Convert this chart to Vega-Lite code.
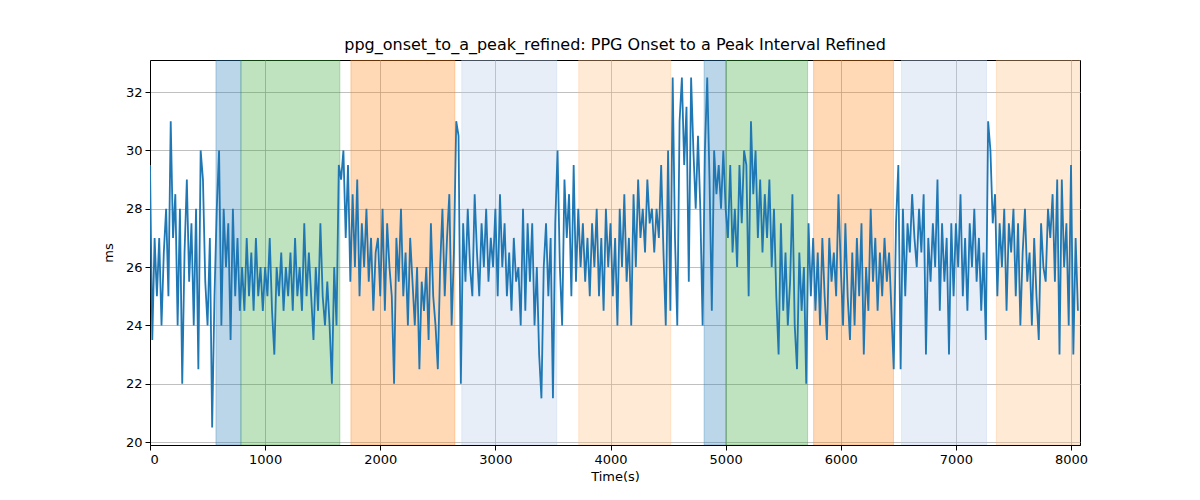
{
"$schema": "https://vega.github.io/schema/vega-lite/v6.json",
"autosize": "none",
"width": 930,
"height": 385,
"padding": {"left": 150, "top": 60, "right": 120, "bottom": 55},
"background": "white",
"title": {"text": "ppg_onset_to_a_peak_refined: PPG Onset to a Peak Interval Refined", "font": "DejaVu Sans", "fontSize": 16, "fontWeight": "normal", "color": "black", "anchor": "middle", "offset": 7},
"config": {
  "view": {"stroke": "black", "strokeWidth": 1},
  "axis": {"labelFont": "DejaVu Sans", "titleFont": "DejaVu Sans", "labelFontSize": 13, "titleFontSize": 13, "titleFontWeight": "normal", "labelColor": "black", "titleColor": "black", "domainColor": "black", "tickColor": "black", "tickSize": 5, "gridColor": "#b0b0b0", "gridWidth": 0.8, "labelPadding": 3}
},
"datasets": {
  "spans": [
    {"start": 573, "end": 790, "phase": "p1"},
    {"start": 790, "end": 1649, "phase": "p2"},
    {"start": 1745, "end": 2648, "phase": "p3"},
    {"start": 2708, "end": 3533, "phase": "p4"},
    {"start": 3724, "end": 4523, "phase": "p5"},
    {"start": 4813, "end": 5002, "phase": "p1"},
    {"start": 5002, "end": 5712, "phase": "p2"},
    {"start": 5764, "end": 6458, "phase": "p3"},
    {"start": 6528, "end": 7266, "phase": "p4"},
    {"start": 7352, "end": 8078, "phase": "p5"}
  ],
  "series": [
    {"t":0,"v":29.5},{"t":20,"v":23.5},{"t":40,"v":27},{"t":60,"v":25},{"t":80,"v":27},{"t":100,"v":24},{"t":120,"v":26.5},{"t":140,"v":28},{"t":160,"v":25},{"t":180,"v":31},
    {"t":200,"v":27},{"t":220,"v":28.5},{"t":240,"v":24},{"t":260,"v":28},{"t":280,"v":22},{"t":300,"v":26.5},{"t":320,"v":29},{"t":340,"v":25.5},{"t":360,"v":27.5},{"t":380,"v":24},
    {"t":400,"v":28},{"t":420,"v":22.5},{"t":440,"v":30},{"t":460,"v":29},{"t":480,"v":25.5},{"t":500,"v":24},{"t":520,"v":27},{"t":540,"v":20.5},{"t":560,"v":25},{"t":580,"v":28},
    {"t":600,"v":30},{"t":620,"v":24},{"t":640,"v":28},{"t":660,"v":26},{"t":680,"v":27.5},{"t":700,"v":23.5},{"t":720,"v":28},{"t":740,"v":25},{"t":760,"v":27},{"t":780,"v":24.5},
    {"t":800,"v":26},{"t":820,"v":24.5},{"t":840,"v":27},{"t":860,"v":25},{"t":880,"v":26.5},{"t":900,"v":24.5},{"t":920,"v":27},{"t":940,"v":25},{"t":960,"v":26},{"t":980,"v":24.5},
    {"t":1000,"v":26},{"t":1020,"v":25},{"t":1040,"v":27},{"t":1060,"v":24.5},{"t":1080,"v":23},{"t":1100,"v":26},{"t":1120,"v":25},{"t":1140,"v":26.5},{"t":1160,"v":24.5},{"t":1180,"v":26},
    {"t":1200,"v":25},{"t":1220,"v":26.5},{"t":1240,"v":24.5},{"t":1260,"v":27},{"t":1280,"v":25},{"t":1300,"v":26},{"t":1320,"v":24.5},{"t":1340,"v":27.5},{"t":1360,"v":25},{"t":1380,"v":26.5},
    {"t":1400,"v":25},{"t":1420,"v":23.5},{"t":1440,"v":26},{"t":1460,"v":24.5},{"t":1480,"v":27.5},{"t":1500,"v":25},{"t":1520,"v":24},{"t":1540,"v":25.5},{"t":1560,"v":24},{"t":1580,"v":22},
    {"t":1600,"v":26},{"t":1620,"v":24},{"t":1640,"v":29.5},{"t":1660,"v":29},{"t":1680,"v":30},{"t":1700,"v":27},{"t":1720,"v":29.5},{"t":1740,"v":25.5},{"t":1760,"v":28.5},{"t":1780,"v":26},
    {"t":1800,"v":29},{"t":1820,"v":25},{"t":1840,"v":27.5},{"t":1860,"v":26},{"t":1880,"v":28},{"t":1900,"v":25.5},{"t":1920,"v":27},{"t":1940,"v":24.5},{"t":1960,"v":26.5},{"t":1980,"v":27},
    {"t":2000,"v":25},{"t":2020,"v":28},{"t":2040,"v":24.5},{"t":2060,"v":27.5},{"t":2080,"v":26},{"t":2100,"v":25},{"t":2120,"v":22},{"t":2140,"v":27},{"t":2160,"v":25.5},{"t":2180,"v":28},
    {"t":2200,"v":25},{"t":2220,"v":26.5},{"t":2240,"v":24},{"t":2260,"v":27},{"t":2280,"v":25.5},{"t":2300,"v":24},{"t":2320,"v":26},{"t":2340,"v":22.5},{"t":2360,"v":25.5},{"t":2380,"v":24.5},
    {"t":2400,"v":26},{"t":2420,"v":23.5},{"t":2440,"v":27.5},{"t":2460,"v":25},{"t":2480,"v":24},{"t":2500,"v":22.5},{"t":2520,"v":26},{"t":2540,"v":28},{"t":2560,"v":25},{"t":2580,"v":27},
    {"t":2600,"v":28.5},{"t":2620,"v":24},{"t":2640,"v":26.5},{"t":2660,"v":31},{"t":2680,"v":30.5},{"t":2700,"v":22},{"t":2720,"v":27.5},{"t":2740,"v":25.5},{"t":2760,"v":28},{"t":2780,"v":26},
    {"t":2800,"v":25},{"t":2820,"v":28.5},{"t":2840,"v":26.5},{"t":2860,"v":25},{"t":2880,"v":27.5},{"t":2900,"v":26},{"t":2920,"v":28},{"t":2940,"v":25.5},{"t":2960,"v":27},{"t":2980,"v":26},
    {"t":3000,"v":28},{"t":3020,"v":25},{"t":3040,"v":28.5},{"t":3060,"v":26},{"t":3080,"v":27.5},{"t":3100,"v":25},{"t":3120,"v":26.5},{"t":3140,"v":24.5},{"t":3160,"v":27},{"t":3180,"v":25.5},
    {"t":3200,"v":26},{"t":3220,"v":24},{"t":3240,"v":28},{"t":3260,"v":24.5},{"t":3280,"v":27.5},{"t":3300,"v":25.5},{"t":3320,"v":27.5},{"t":3340,"v":24},{"t":3360,"v":26},{"t":3380,"v":23},
    {"t":3400,"v":21.5},{"t":3420,"v":26},{"t":3440,"v":27.5},{"t":3460,"v":25},{"t":3480,"v":27},{"t":3500,"v":21.5},{"t":3520,"v":27.5},{"t":3540,"v":30},{"t":3560,"v":26},{"t":3580,"v":24},
    {"t":3600,"v":29},{"t":3620,"v":27},{"t":3640,"v":28.5},{"t":3660,"v":25},{"t":3680,"v":29.5},{"t":3700,"v":25.5},{"t":3720,"v":28},{"t":3740,"v":26},{"t":3760,"v":27.5},{"t":3780,"v":25.5},
    {"t":3800,"v":27},{"t":3820,"v":25},{"t":3840,"v":27.5},{"t":3860,"v":26},{"t":3880,"v":28},{"t":3900,"v":25},{"t":3920,"v":27},{"t":3940,"v":24.5},{"t":3960,"v":28},{"t":3980,"v":26},
    {"t":4000,"v":27.5},{"t":4020,"v":25},{"t":4040,"v":27},{"t":4060,"v":24},{"t":4080,"v":28},{"t":4100,"v":26},{"t":4120,"v":28.5},{"t":4140,"v":25.5},{"t":4160,"v":27},{"t":4180,"v":24},
    {"t":4200,"v":28.5},{"t":4220,"v":26},{"t":4240,"v":29},{"t":4260,"v":27},{"t":4280,"v":28},{"t":4300,"v":26.5},{"t":4320,"v":29},{"t":4340,"v":27.5},{"t":4360,"v":28},{"t":4380,"v":26.5},
    {"t":4400,"v":28},{"t":4420,"v":27},{"t":4440,"v":29.5},{"t":4460,"v":26.5},{"t":4480,"v":24},{"t":4500,"v":30},{"t":4520,"v":24.5},{"t":4540,"v":32.5},{"t":4560,"v":27},{"t":4580,"v":24},
    {"t":4600,"v":31},{"t":4620,"v":32.5},{"t":4640,"v":29.5},{"t":4660,"v":31.5},{"t":4680,"v":25.5},{"t":4700,"v":32.5},{"t":4720,"v":30},{"t":4740,"v":28},{"t":4760,"v":30.5},{"t":4780,"v":28},
    {"t":4800,"v":24},{"t":4820,"v":30},{"t":4840,"v":32.5},{"t":4860,"v":29},{"t":4880,"v":24.5},{"t":4900,"v":30},{"t":4920,"v":28.5},{"t":4940,"v":29.5},{"t":4960,"v":28},{"t":4980,"v":30},
    {"t":5000,"v":28},{"t":5020,"v":27},{"t":5040,"v":29.5},{"t":5060,"v":26.5},{"t":5080,"v":28},{"t":5100,"v":26},{"t":5120,"v":29.5},{"t":5140,"v":27.5},{"t":5160,"v":30},{"t":5180,"v":29.5},
    {"t":5200,"v":25},{"t":5220,"v":31},{"t":5240,"v":28.5},{"t":5260,"v":30},{"t":5280,"v":27},{"t":5300,"v":29},{"t":5320,"v":26.5},{"t":5340,"v":28.5},{"t":5360,"v":27},{"t":5380,"v":29},
    {"t":5400,"v":26},{"t":5420,"v":28},{"t":5440,"v":25},{"t":5460,"v":23},{"t":5480,"v":27.5},{"t":5500,"v":24.5},{"t":5520,"v":26.5},{"t":5540,"v":24},{"t":5560,"v":25.5},{"t":5580,"v":28.5},
    {"t":5600,"v":24},{"t":5620,"v":22.5},{"t":5640,"v":26.5},{"t":5660,"v":24.5},{"t":5680,"v":26},{"t":5700,"v":22},{"t":5720,"v":27.5},{"t":5740,"v":25},{"t":5760,"v":27},{"t":5780,"v":24.5},
    {"t":5800,"v":26.5},{"t":5820,"v":24},{"t":5840,"v":27},{"t":5860,"v":25},{"t":5880,"v":23.5},{"t":5900,"v":27},{"t":5920,"v":25.5},{"t":5940,"v":26.5},{"t":5960,"v":25},{"t":5980,"v":28.5},
    {"t":6000,"v":26},{"t":6020,"v":24},{"t":6040,"v":27.5},{"t":6060,"v":25},{"t":6080,"v":23.5},{"t":6100,"v":26.5},{"t":6120,"v":24},{"t":6140,"v":27},{"t":6160,"v":25},{"t":6180,"v":27.5},
    {"t":6200,"v":23},{"t":6220,"v":26},{"t":6240,"v":24.5},{"t":6260,"v":28},{"t":6280,"v":25.5},{"t":6300,"v":27},{"t":6320,"v":24.5},{"t":6340,"v":26.5},{"t":6360,"v":25},{"t":6380,"v":27},
    {"t":6400,"v":25.5},{"t":6420,"v":26.5},{"t":6440,"v":24.5},{"t":6460,"v":22.5},{"t":6480,"v":27.5},{"t":6500,"v":29.5},{"t":6520,"v":22.5},{"t":6540,"v":28},{"t":6560,"v":25},{"t":6580,"v":27.5},
    {"t":6600,"v":26.5},{"t":6620,"v":28.5},{"t":6640,"v":27},{"t":6660,"v":26},{"t":6680,"v":28},{"t":6700,"v":26.5},{"t":6720,"v":28.5},{"t":6740,"v":23},{"t":6760,"v":27},{"t":6780,"v":25.5},
    {"t":6800,"v":27.5},{"t":6820,"v":26},{"t":6840,"v":29},{"t":6860,"v":24.5},{"t":6880,"v":27.5},{"t":6900,"v":25.5},{"t":6920,"v":27},{"t":6940,"v":23},{"t":6960,"v":27.5},{"t":6980,"v":25},
    {"t":7000,"v":27.5},{"t":7020,"v":26},{"t":7040,"v":28.5},{"t":7060,"v":25},{"t":7080,"v":27},{"t":7100,"v":24.5},{"t":7120,"v":27.5},{"t":7140,"v":26},{"t":7160,"v":28},{"t":7180,"v":25.5},
    {"t":7200,"v":27},{"t":7220,"v":24.5},{"t":7240,"v":26.5},{"t":7260,"v":23.5},{"t":7280,"v":31},{"t":7300,"v":30},{"t":7320,"v":27.5},{"t":7340,"v":28.5},{"t":7360,"v":25},{"t":7380,"v":27.5},
    {"t":7400,"v":26},{"t":7420,"v":28},{"t":7440,"v":24.5},{"t":7460,"v":27.5},{"t":7480,"v":26.5},{"t":7500,"v":28},{"t":7520,"v":25},{"t":7540,"v":27.5},{"t":7560,"v":24},{"t":7580,"v":26.5},
    {"t":7600,"v":28},{"t":7620,"v":25.5},{"t":7640,"v":26.5},{"t":7660,"v":24},{"t":7680,"v":27},{"t":7700,"v":25},{"t":7720,"v":23.5},{"t":7740,"v":27.5},{"t":7760,"v":26},{"t":7780,"v":25.5},
    {"t":7800,"v":28},{"t":7820,"v":27},{"t":7840,"v":28.5},{"t":7860,"v":25.5},{"t":7880,"v":29},{"t":7900,"v":23},{"t":7920,"v":29},{"t":7940,"v":26},{"t":7960,"v":27.5},{"t":7980,"v":24},
    {"t":8000,"v":29.5},{"t":8020,"v":23},{"t":8040,"v":27},{"t":8060,"v":24.5}
  ]
},
"layer": [
  {
    "data": {"name": "spans"},
    "mark": {"type": "rect", "fillOpacity": 0.3, "strokeOpacity": 0.3, "strokeWidth": 1, "clip": true},
    "encoding": {
      "x": {"field": "start", "type": "quantitative", "scale": {"domain": [0, 8078], "nice": false, "zero": false}, "axis": {"title": "Time(s)", "values": [0,1000,2000,3000,4000,5000,6000,7000,8000], "format": "d", "titlePadding": 4}},
      "x2": {"field": "end"},
      "color": {"field": "phase", "type": "nominal", "scale": {"domain": ["p1","p2","p3","p4","p5"], "range": ["#1f77b4","#2ca02c","#ff7f0e","#aec7e8","#ffbb78"]}, "legend": null},
      "stroke": {"field": "phase", "type": "nominal", "scale": {"domain": ["p1","p2","p3","p4","p5"], "range": ["#1f77b4","#2ca02c","#ff7f0e","#aec7e8","#ffbb78"]}, "legend": null}
    }
  },
  {
    "data": {"name": "series"},
    "mark": {"type": "line", "color": "#1f77b4", "strokeWidth": 1.8, "clip": true},
    "encoding": {
      "x": {"field": "t", "type": "quantitative"},
      "y": {"field": "v", "type": "quantitative", "scale": {"domain": [19.9, 33.1], "nice": false, "zero": false}, "axis": {"title": "ms", "values": [20,22,24,26,28,30,32], "titlePadding": 10}}
    }
  }
]
}
